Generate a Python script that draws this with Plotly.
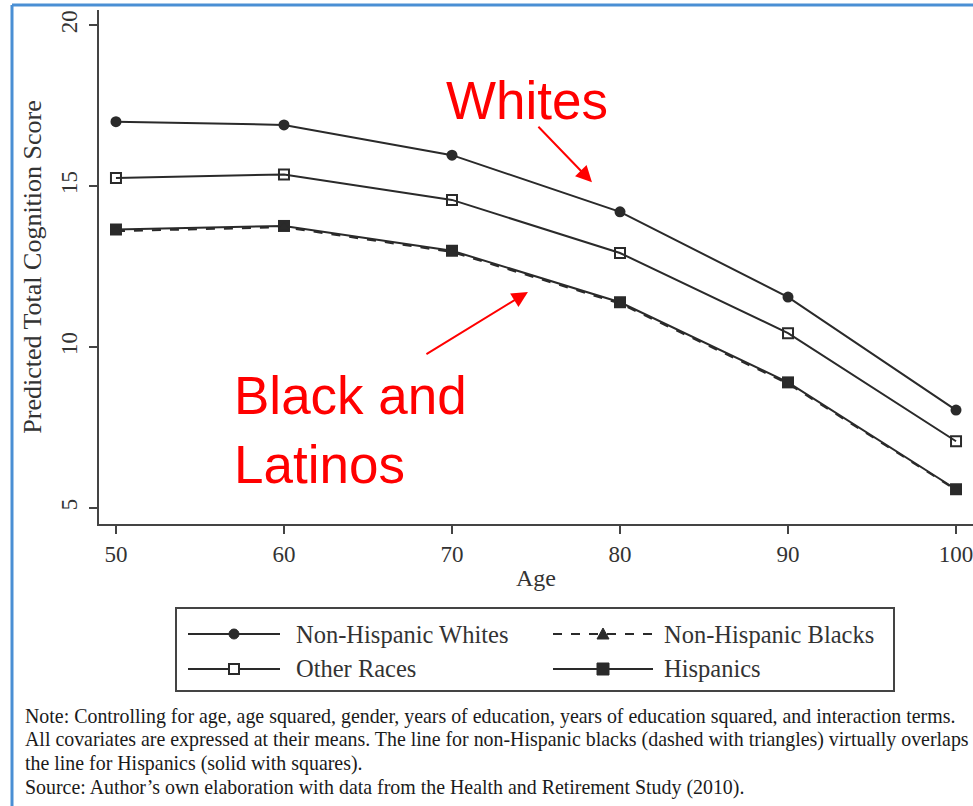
import plotly.graph_objects as go

# Predicted total cognition score by age and race/ethnicity
ages = [50, 60, 70, 80, 90, 100]
whites = [17.0, 16.9, 15.96, 14.2, 11.55, 8.04]
other_races = [15.25, 15.36, 14.57, 12.92, 10.43, 7.07]
blacks = [13.6, 13.72, 12.95, 11.35, 8.86, 5.56]
hispanics = [13.65, 13.76, 12.99, 11.39, 8.9, 5.58]

y_ticks = [5, 10, 15, 20]
x_ticks = [50, 60, 70, 80, 90, 100]

legend_labels = ["Non-Hispanic Whites", "Non-Hispanic Blacks", "Other Races", "Hispanics"]

note_lines = [
    "Note: Controlling for age, age squared, gender, years of education, years of education squared, and interaction terms.",
    "All covariates are expressed at their means. The line for non-Hispanic blacks (dashed with triangles) virtually overlaps",
    "the line for Hispanics (solid with squares).",
    "Source: Author\u2019s own elaboration with data from the Health and Retirement Study (2010).",
]

W, H = 973, 806
ML, MR, MT, MB = 99, 0, 10, 282
PW, PH = W - ML - MR, H - MT - MB

SERIF = "Liberation Serif, Times New Roman, serif"
SANS = "Liberation Sans, Arial, sans-serif"
INK = "#2a2a2a"
TXT = "#333333"
RED = "#ff0000"


def px(x):
    """Page pixel x -> paper coordinate."""
    return (x - ML) / PW


def py(y):
    """Page pixel y -> paper coordinate."""
    return (H - MB - y) / PH


fig = go.Figure()

fig.add_trace(go.Scatter(
    x=ages, y=whites, mode="lines+markers", name=legend_labels[0],
    line=dict(color=INK, width=2),
    marker=dict(symbol="circle", size=11, color=INK),
))
fig.add_trace(go.Scatter(
    x=ages, y=other_races, mode="lines+markers", name=legend_labels[2],
    line=dict(color=INK, width=2),
    marker=dict(symbol="square-open", size=10, color=INK, line=dict(width=2)),
))
fig.add_trace(go.Scatter(
    x=ages, y=hispanics, mode="lines+markers", name=legend_labels[3],
    line=dict(color=INK, width=2),
    marker=dict(symbol="square", size=12, color=INK),
))
fig.add_trace(go.Scatter(
    x=ages, y=blacks, mode="lines+markers", name=legend_labels[1],
    line=dict(color=INK, width=2, dash="dash"),
    marker=dict(symbol="triangle-up", size=10, color=INK),
))

shapes = []
annotations = []

# Frame lines along the top and left edge of the page
BLUE = "#4a8fd4"
shapes.append(dict(type="line", xref="paper", yref="paper",
                   x0=px(12), x1=px(W + 5), y0=py(5), y1=py(5),
                   line=dict(color=BLUE, width=3)))
shapes.append(dict(type="line", xref="paper", yref="paper",
                   x0=px(12), x1=px(12), y0=py(5), y1=py(H + 5),
                   line=dict(color=BLUE, width=3)))

# Legend box
shapes.append(dict(type="rect", xref="paper", yref="paper",
                   x0=px(176), x1=px(894), y0=py(608), y1=py(691),
                   line=dict(color="#444444", width=2), fillcolor="white"))

key_rows = [634, 669]
key_cols = [(188, 280, 296), (553, 653, 664)]
key_specs = [
    (0, 0, legend_labels[0], "solid", "circle"),
    (0, 1, legend_labels[1], "dash", "triangle"),
    (1, 0, legend_labels[2], "solid", "square-open"),
    (1, 1, legend_labels[3], "solid", "square"),
]
for r, c, label, dash, sym in key_specs:
    yy = key_rows[r]
    x0, x1, xt = key_cols[c]
    xm = (x0 + x1) / 2
    shapes.append(dict(type="line", xref="paper", yref="paper",
                       x0=px(x0), x1=px(x1), y0=py(yy), y1=py(yy),
                       line=dict(color=INK, width=2, dash=dash)))
    if sym == "circle":
        shapes.append(dict(type="circle", xref="paper", yref="paper",
                           x0=px(xm - 5), x1=px(xm + 5), y0=py(yy + 5), y1=py(yy - 5),
                           line=dict(color=INK, width=1), fillcolor=INK))
    elif sym == "square-open":
        shapes.append(dict(type="rect", xref="paper", yref="paper",
                           x0=px(xm - 5), x1=px(xm + 5), y0=py(yy + 5), y1=py(yy - 5),
                           line=dict(color=INK, width=2), fillcolor="white"))
    elif sym == "square":
        shapes.append(dict(type="rect", xref="paper", yref="paper",
                           x0=px(xm - 6), x1=px(xm + 6), y0=py(yy + 6), y1=py(yy - 6),
                           line=dict(color=INK, width=1), fillcolor=INK))
    else:
        shapes.append(dict(type="path", xref="paper", yref="paper",
                           path="M {} {} L {} {} L {} {} Z".format(
                               px(xm - 6), py(yy + 5), px(xm + 6), py(yy + 5),
                               px(xm), py(yy - 6)),
                           line=dict(color=INK, width=1), fillcolor=INK))
    annotations.append(dict(xref="paper", yref="paper", x=px(xt - 2), y=py(yy),
                            xanchor="left", yanchor="middle", showarrow=False,
                            text=label, font=dict(family=SERIF, size=24.5, color=TXT)))

# Notes under the legend
for i, line in enumerate(note_lines):
    annotations.append(dict(xref="paper", yref="paper", x=px(23), y=py(716 + i * 23.7),
                            xanchor="left", yanchor="middle", showarrow=False,
                            text=line, font=dict(family=SERIF, size=19.9, color="#1a1a1a")))

# Red callouts
annotations.append(dict(xref="paper", yref="paper", x=px(527), y=py(100),
                        xanchor="center", yanchor="middle", showarrow=False,
                        text="Whites", font=dict(family=SANS, size=53, color=RED)))
annotations.append(dict(xref="paper", yref="paper", x=px(232), y=py(430),
                        xanchor="left", yanchor="middle", showarrow=False, align="left",
                        text="Black and<br>Latinos", font=dict(family=SANS, size=53, color=RED)))
annotations.append(dict(x=78.33, y=15.12, xref="x", yref="y", text="",
                        showarrow=True, arrowhead=2, arrowsize=1.6, arrowwidth=2,
                        arrowcolor=RED, ax=-55, ay=-57, axref="pixel", ayref="pixel"))
annotations.append(dict(x=74.52, y=11.71, xref="x", yref="y", text="",
                        showarrow=True, arrowhead=2, arrowsize=1.6, arrowwidth=2,
                        arrowcolor=RED, ax=-103, ay=63, axref="pixel", ayref="pixel"))

fig.update_layout(
    width=W, height=H,
    margin=dict(l=ML, r=MR, t=MT, b=MB),
    paper_bgcolor="white", plot_bgcolor="white",
    showlegend=False,
    shapes=shapes, annotations=annotations,
    font=dict(family=SERIF, color=TXT),
)
fig.update_xaxes(
    range=[48.99, 101.01], tickvals=x_ticks, ticktext=[str(t) for t in x_ticks],
    showline=True, linecolor="#444444", linewidth=2, mirror=False,
    ticks="outside", ticklen=8, tickwidth=2, tickcolor="#444444",
    showgrid=False, zeroline=False, ticklabeloverflow="allow",
    tickfont=dict(family=SERIF, size=23, color=TXT),
    title=dict(text="Age", font=dict(family=SERIF, size=24, color=TXT), standoff=4),
)
fig.update_yaxes(
    range=[4.5, 20.47], tickvals=y_ticks, ticktext=[str(t) for t in y_ticks],
    showline=True, linecolor="#444444", linewidth=2, mirror=False,
    ticks="outside", ticklen=8, tickwidth=2, tickcolor="#444444",
    tickangle=-90, showgrid=False, zeroline=False, ticklabelstandoff=3,
    tickfont=dict(family=SERIF, size=23, color=TXT),
    title=dict(text="Predicted Total Cognition Score",
               font=dict(family=SERIF, size=26, color=TXT), standoff=8),
)

fig.write_html("out.html")
